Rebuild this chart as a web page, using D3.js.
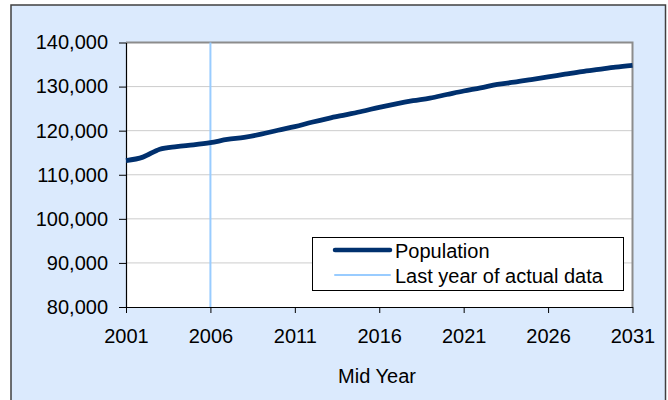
<!DOCTYPE html>
<html>
<head>
<meta charset="utf-8">
<script src="https://cdn.jsdelivr.net/npm/d3@7"></script>
<style>
  body { margin: 0; background: #fff; }
  svg text { font-family: "Liberation Sans", Arial, sans-serif; fill: #000; }
</style>
</head>
<body>
<div id="chart"></div>
<script>
// data
var years = d3.range(2001, 2032)
var population = [113200, 114000, 115800, 116400, 116800, 117300, 118000, 118500, 119200, 120100,
  120900, 121900, 122800, 123600, 124400, 125300, 126100, 126800, 127400, 128200,
  129000, 129700, 130500, 131000, 131600, 132200, 132800, 133400, 133900, 134400, 134800]
var lastActualYear = 2006
var yTicks = [80000, 90000, 100000, 110000, 120000, 130000, 140000]
var xTicks = [2001, 2006, 2011, 2016, 2021, 2026, 2031]
var legendLabels = ["Population", "Last year of actual data"]

var W = 668, H = 400
var plot = { left: 126, top: 42.5, right: 632.5, bottom: 307 }
var fontSize = "20px"

var svg = d3.select("#chart").append("svg")
    .attr("width", W)
    .attr("height", H)

// outer chart area
svg.append("rect")
    .attr("x", 11).attr("y", 5)
    .attr("width", 654.5).attr("height", 400)
    .attr("fill", "#dbeafd")
    .attr("stroke", "#404040")
    .attr("stroke-width", 1.5)

// plot area
svg.append("rect")
    .attr("x", plot.left).attr("y", plot.top)
    .attr("width", plot.right - plot.left).attr("height", plot.bottom - plot.top)
    .attr("fill", "#fff")

var x = d3.scaleLinear().domain([2001, 2031]).range([plot.left, plot.right])
var y = d3.scaleLinear().domain([80000, 140000]).range([plot.bottom, plot.top])

// gridlines
svg.append("g").selectAll("line")
    .data(yTicks.slice(1, -1))
    .enter().append("line")
    .attr("x1", plot.left).attr("x2", plot.right)
    .attr("y1", d => y(d)).attr("y2", d => y(d))
    .attr("stroke", "#cccccc")
    .attr("stroke-width", 1)

// grey frame top and right
svg.append("path")
    .attr("d", "M" + plot.left + "," + plot.top + "H" + plot.right + "V" + plot.bottom)
    .attr("fill", "none")
    .attr("stroke", "#8c8c8c")
    .attr("stroke-width", 2)

// vertical line for last actual year
svg.append("line")
    .attr("x1", x(lastActualYear)).attr("x2", x(lastActualYear))
    .attr("y1", plot.top).attr("y2", plot.bottom)
    .attr("stroke", "#99ccff")
    .attr("stroke-width", 2)

// axes
var yAxis = svg.append("g")
    .attr("transform", "translate(" + plot.left + ",0)")
    .call(d3.axisLeft(y).tickValues(yTicks).tickFormat(d3.format(",")).tickSize(7).tickSizeOuter(0).tickPadding(11))
var xAxis = svg.append("g")
    .attr("transform", "translate(0," + plot.bottom + ")")
    .call(d3.axisBottom(x).tickValues(xTicks).tickFormat(d3.format("d")).tickSize(6).tickSizeOuter(0).tickPadding(16))

svg.selectAll(".tick text")
    .style("font-size", fontSize)
    .style("font-family", "'Liberation Sans', Arial, sans-serif")
svg.selectAll(".domain").attr("stroke", "#000").attr("stroke-width", 1.2)
svg.selectAll(".tick line").attr("stroke", "#000")

// population line
var line = d3.line()
    .x((d, i) => x(years[i]))
    .y(d => y(d))
    .curve(d3.curveMonotoneX)
svg.append("path")
    .datum(population)
    .attr("d", line)
    .attr("fill", "none")
    .attr("stroke", "#00306e")
    .attr("stroke-width", 4.8)
    .attr("stroke-linejoin", "round")

// axis title
svg.append("text")
    .attr("x", 377).attr("y", 383)
    .attr("text-anchor", "middle")
    .style("font-size", fontSize)
    .text("Mid Year")

// legend
var legend = svg.append("g")
legend.append("rect")
    .attr("x", 312.5).attr("y", 237.5)
    .attr("width", 311).attr("height", 53)
    .attr("fill", "#fff")
    .attr("stroke", "#000")
    .attr("stroke-width", 1)
var legendColors = ["#00306e", "#99ccff"]
var legendWidths = [4.5, 2]
legendLabels.forEach(function(label, i) {
    var ly = 250 + i * 25
    legend.append("line")
        .attr("x1", 335).attr("x2", 390)
        .attr("y1", ly).attr("y2", ly)
        .attr("stroke", legendColors[i])
        .attr("stroke-width", legendWidths[i])
        .attr("stroke-linecap", "round")
    legend.append("text")
        .attr("x", 395).attr("y", ly + 8)
        .style("font-size", fontSize)
        .text(label)
})
</script>
</body>
</html>
